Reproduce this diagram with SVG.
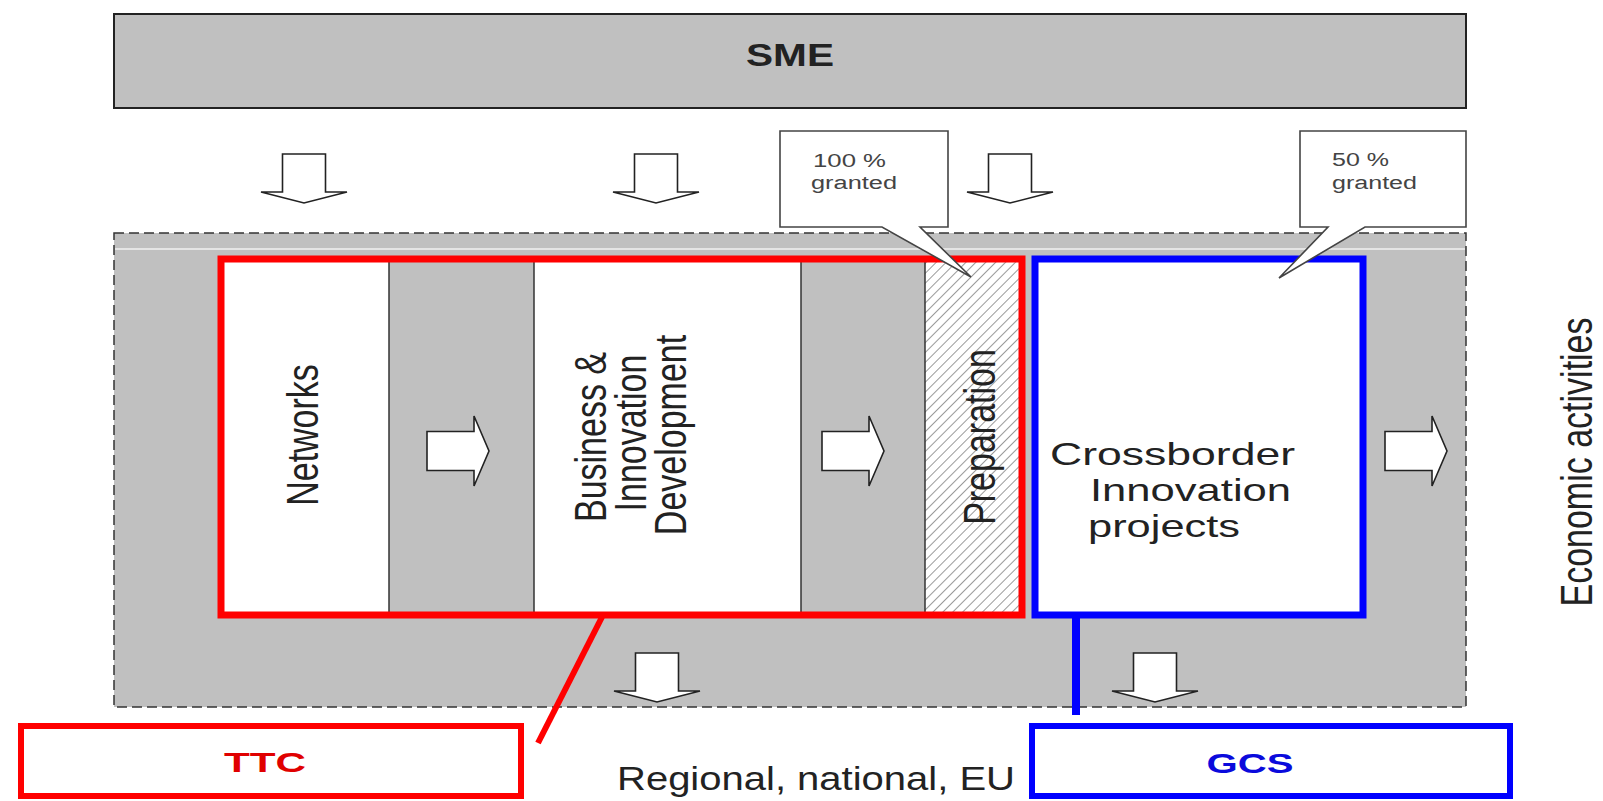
<svg xmlns="http://www.w3.org/2000/svg" width="1603" height="801" viewBox="0 0 1603 801">
  <defs>
    <style>
      .gray { fill: #c0c0c0; }
      .box { fill: #c0c0c0; stroke: #222; stroke-width: 2; }
      .dash { fill: #c0c0c0; stroke: #333; stroke-width: 1.5; stroke-dasharray: 10 5; }
      .col { fill: #fff; }
      .div { stroke: #333; stroke-width: 1.5; }
      .arrow { fill: #fff; stroke: #222; stroke-width: 1.6; stroke-linejoin: miter; }
      .callout { fill: #fff; stroke: #444; stroke-width: 1.6; }
      .txt { font-family: "Liberation Sans", Arial, sans-serif; fill: #222; }
      .bold { font-weight: bold; }
      .small { font-size: 18px; fill: #444; }
      .big { font-size: 32px; }
      .rot { font-size: 34px; text-anchor: middle; }
      .red { stroke: #ff0000; fill: none; stroke-width: 7; }
      .blue { stroke: #0000ff; fill: none; stroke-width: 7; }
      .lbl { fill: #fff; stroke-width: 6; }
    </style>
    <pattern id="hatch" patternUnits="userSpaceOnUse" width="7" height="7" patternTransform="rotate(45)">
      <rect width="7" height="7" fill="#fff"/>
      <line x1="0" y1="0" x2="0" y2="7" stroke="#9a9a9a" stroke-width="2"/>
    </pattern>
    <path id="darrow" class="arrow" d="M-21.5,0 H21.5 V38 H43 L0,49 L-43,38 H-21.5 Z"/>
    <path id="rarrow" class="arrow" d="M0,-19.5 H47 V-35 L62,0 L47,35 V19.5 H0 Z"/>
  </defs>

  <!-- SME -->
  <g id="sme">
    <rect class="box" x="114" y="14" width="1352" height="94"/>
    <text class="txt bold" x="790" y="66" font-size="31" text-anchor="middle" textLength="88" lengthAdjust="spacingAndGlyphs">SME</text>
  </g>

  <!-- top flow arrows -->
  <g id="top-arrows">
    <use href="#darrow" x="304" y="154"/>
    <use href="#darrow" x="656" y="154"/>
    <use href="#darrow" x="1010" y="154"/>
  </g>

  <!-- regional container -->
  <g id="region">
    <rect class="dash" x="114" y="233" width="1352" height="474"/>
    <line x1="115" y1="249" x2="1465" y2="249" stroke="#f2f2f2" stroke-width="1.3"/>
  </g>

  <!-- columns -->
  <g id="networks">
    <rect class="col" x="221" y="259" width="168" height="356"/>
    <text class="txt rot" transform="translate(302,435) scale(1.3,1) rotate(-90)" dy="12">Networks</text>
  </g>
  <g id="gap1">
    <rect class="gray" x="389" y="259" width="145" height="356"/>
  </g>
  <g id="bid">
    <rect class="col" x="534" y="259" width="267" height="356"/>
    <text class="txt rot" transform="translate(590,437) scale(1.3,1) rotate(-90)" dy="12">Business &amp;</text>
    <text class="txt rot" transform="translate(630,433) scale(1.3,1) rotate(-90)" dy="12">Innovation</text>
    <text class="txt rot" transform="translate(670,435) scale(1.3,1) rotate(-90)" dy="12">Development</text>
  </g>
  <g id="gap2">
    <rect class="gray" x="801" y="259" width="124" height="356"/>
  </g>
  <g id="preparation">
    <rect x="925" y="259" width="97" height="356" fill="url(#hatch)"/>
    <text class="txt rot" transform="translate(979,437) scale(1.3,1) rotate(-90)" dy="12">Preparation</text>
  </g>
  <g id="dividers">
    <line class="div" x1="389" y1="259" x2="389" y2="615"/>
    <line class="div" x1="534" y1="259" x2="534" y2="615"/>
    <line class="div" x1="801" y1="259" x2="801" y2="615"/>
    <line class="div" x1="925" y1="259" x2="925" y2="615"/>
  </g>
  <g id="crossborder">
    <rect x="1035" y="259" width="328" height="356" fill="#fff"/>
    <text class="txt big" x="1050" y="465" textLength="245" lengthAdjust="spacingAndGlyphs">Crossborder</text>
    <text class="txt big" x="1090" y="501" textLength="201" lengthAdjust="spacingAndGlyphs">Innovation</text>
    <text class="txt big" x="1088" y="537" textLength="152" lengthAdjust="spacingAndGlyphs">projects</text>
  </g>

  <!-- frames -->
  <g id="ttc-frame">
    <rect class="red" x="221" y="259" width="801" height="356"/>
  </g>
  <g id="gcs-frame">
    <rect class="blue" x="1035" y="259" width="328" height="356"/>
  </g>

  <!-- callouts -->
  <g id="callout-100">
    <path class="callout" d="M780,131 H948 V227 H920 L971,277 L882,227 H780 Z"/>
    <text class="txt small" x="813" y="167" textLength="73" lengthAdjust="spacingAndGlyphs">100 %</text>
    <text class="txt small" x="811" y="189" textLength="86" lengthAdjust="spacingAndGlyphs">granted</text>
  </g>
  <g id="callout-50">
    <path class="callout" d="M1300,131 H1466 V227 H1365 L1279,278 L1328,227 H1300 Z"/>
    <text class="txt small" x="1332" y="166" textLength="57" lengthAdjust="spacingAndGlyphs">50 %</text>
    <text class="txt small" x="1332" y="189" textLength="85" lengthAdjust="spacingAndGlyphs">granted</text>
  </g>

  <!-- flow arrows inside -->
  <g id="flow-arrows">
    <use href="#rarrow" x="427" y="451"/>
    <use href="#rarrow" x="822" y="451"/>
    <use href="#rarrow" x="1385" y="451"/>
    <use href="#darrow" x="657" y="653"/>
    <use href="#darrow" x="1155" y="653"/>
  </g>

  <!-- connectors -->
  <g id="connectors">
    <line x1="602" y1="617" x2="538" y2="743" stroke="#ff0000" stroke-width="6"/>
    <line x1="1076" y1="617" x2="1076" y2="715" stroke="#0000ff" stroke-width="8"/>
  </g>

  <!-- labels -->
  <g id="ttc">
    <rect class="lbl" x="21" y="726" width="500" height="70" stroke="#ff0000"/>
    <text class="txt bold" x="265" y="772" font-size="27" style="fill:#e00000" text-anchor="middle" textLength="82" lengthAdjust="spacingAndGlyphs">TTC</text>
  </g>
  <g id="gcs">
    <rect class="lbl" x="1032" y="726" width="478" height="70" stroke="#0000ff"/>
    <text class="txt bold" x="1250" y="773" font-size="27" style="fill:#0a0adc" text-anchor="middle" textLength="87" lengthAdjust="spacingAndGlyphs">GCS</text>
  </g>
  <g id="scope">
    <text class="txt" x="617" y="790" font-size="34" textLength="398" lengthAdjust="spacingAndGlyphs">Regional, national, EU</text>
  </g>
  <g id="economic">
    <text class="txt rot" transform="translate(1576,462) scale(1.3,1) rotate(-90)" dy="12">Economic activities</text>
  </g>
</svg>
